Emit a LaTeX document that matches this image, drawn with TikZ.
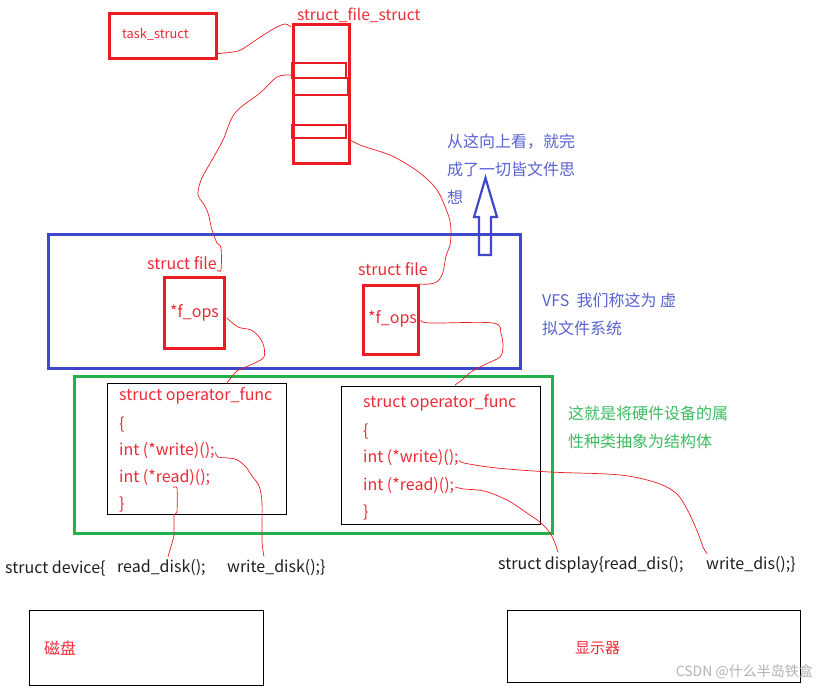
\documentclass[tikz,border=0pt]{standalone}
\usepackage{fontspec}
\setmainfont{Noto Sans CJK SC}
\usetikzlibrary{calc}
\definecolor{pred}{HTML}{ED1C24}
\definecolor{pblue}{HTML}{3F48CC}
\definecolor{pgreen}{HTML}{22B14C}
\definecolor{tred}{HTML}{EE2A36}
\definecolor{tblue}{HTML}{5A62D2}
\definecolor{tgreen}{HTML}{3DBB62}
\begin{document}
\begin{tikzpicture}[x=1pt,y=-1pt,
  redbox/.style={draw=pred, line width=2.6pt, inner sep=0pt, anchor=north west},
  blkbox/.style={draw=black, line width=1pt, inner sep=0pt, anchor=north west},
  rtxt/.style={text=tred, font=\fontsize{16}{18}\selectfont, inner sep=0pt, anchor=west},
  btxt/.style={text=black!88, font=\fontsize{16}{18}\selectfont, inner sep=0pt, anchor=west},
  cnote/.style={font=\fontsize{16}{28}\selectfont, inner sep=0pt, anchor=north west, align=left},
  wire/.style={draw=pred, line width=0.7pt, smooth, tension=0.55}
]
\useasboundingbox (0,0) rectangle (825,689);
\fill[white] (0,0) rectangle (825,689);

% task_struct
\node[redbox, minimum width=107, minimum height=45] (task) at (108,12) {};
\node[rtxt, font=\fontsize{12.8}{14}\selectfont] (tasktxt) at (122,34) {task\_struct};

% struct_file_struct column
\node[rtxt, font=\fontsize{15.5}{17}\selectfont] (fslbl) at (297,15) {struct\_file\_struct};
\node[redbox, minimum width=56, minimum height=139] (fs) at (292,23) {};
\draw[pred, line width=2.6pt] (292,63) rectangle (346,78);
\draw[pred, line width=2.6pt] (294,78) rectangle (348,95);
\draw[pred, line width=2.6pt] (292,125) rectangle (346,138);

% VFS box
\node[draw=pblue, line width=3pt, inner sep=0pt, anchor=north west, minimum width=472, minimum height=134] (vfs) at (47,233) {};
\node[rtxt, anchor=center] (sf1) at (182,263) {struct file};
\node[redbox, minimum width=60, minimum height=71] (fo1) at (163,276) {};
\node[rtxt] (fopt1) at (170,313) {*f\_ops};
\node[rtxt, anchor=center] (sf2) at (393,269) {struct file};
\node[redbox, minimum width=55, minimum height=69] (fo2) at (362,284) {};
\node[rtxt] (fopt2) at (368,319) {*f\_ops};

% up arrow
\draw[pblue, line width=2.2pt, line join=miter] (479,255) -- (479,217) -- (474,217) -- (485.5,178) -- (497,217) -- (491,217) -- (491,255) -- cycle;
\node[cnote, text=tblue] (upnote) at (447,134) {从这向上看，就完\\成了一切皆文件思\\想};
\node[cnote, text=tblue] (vfsnote) at (542,293) {VFS\ \ 我们称这为 虚\\拟文件系统};

% green box
\node[draw=pgreen, line width=3pt, inner sep=0pt, anchor=north west, minimum width=478, minimum height=157] (grn) at (73,375) {};
\node[cnote, text=tgreen] (hwnote) at (568,406) {这就是将硬件设备的属\\性种类抽象为结构体};

% operator_func boxes
\node[blkbox, minimum width=179, minimum height=131] (ob1) at (107,383) {};
\node[rtxt] (oa1) at (119,396) {struct operator\_func};
\node[rtxt] (ob1a) at (119,425) {\{};
\node[rtxt] (w1) at (119,451) {int (*write)();};
\node[rtxt] (r1) at (119,478) {int (*read)();};
\node[rtxt] (ob1b) at (119,505) {\}};

\node[blkbox, minimum width=199, minimum height=138] (ob2) at (341,386) {};
\node[rtxt] (oa2) at (363,403) {struct operator\_func};
\node[rtxt] (ob2a) at (363,432) {\{};
\node[rtxt] (w2) at (363,458) {int (*write)();};
\node[rtxt] (r2) at (363,486) {int (*read)();};
\node[rtxt] (ob2b) at (363,513) {\}};

% device lines
\node[btxt] (dev) at (5,568) {struct device\{};
\node[btxt] (rd) at (117,568) {read\_disk();};
\node[btxt] (wd) at (227,568) {write\_disk();\}};
\node[btxt] (dsp) at (498,565) {struct display\{read\_dis();};
\node[btxt] (wdi) at (706,565) {write\_dis();\}};

% hardware boxes
\node[blkbox, minimum width=234, minimum height=75] (disk) at (29,610) {};
\node[rtxt] (disktxt) at (44,648) {磁盘};
\node[blkbox, minimum width=293, minimum height=72] (disp) at (507,610) {};
\node[rtxt, font=\fontsize{15}{17}\selectfont] (disptxt) at (575,648) {显示器};
\node[inner sep=0pt, anchor=east, text=black!30, font=\fontsize{14}{16}\selectfont] (wm) at (813,672) {CSDN @什么半岛铁盒};

% connectors
\draw[wire] plot coordinates {($(task.south east)+(0,-6)$) (238,51) (250,44) (262,36) (275,28) (285,24) ($(fs.north west)+(-1,4)$)};
\draw[wire] plot coordinates {($(fs.north west)+(-1,52)$) (277,77) (260,93) (235,113) (223,140) (212,160) (201,180) (198,195) (203,203) (208,213) (212,230) (217,243) (221,248) (221,270) (sf1.south east)};
\draw[wire] plot coordinates {($(fs.north west)+(58,117)$) (360,145) (372,149) (390,155) (405,163) (420,173) (433,185) (440,195) (446,209) (450,221) (451,233) (450,245) (446,256) (443,272) (438,281) (430,284) (fo2.north east)};
\draw[wire] plot coordinates {($(fo1.east)+(1,5)$) (238,327) (251,330) (260,338) (264,347) (264,357) (257,362) (248,366) (237,371) (230,379) ($(ob1.north west)+(120,0)$)};
\draw[wire] plot coordinates {($(fo2.east)+(1,0)$) (430,323) (493,323) (501,334) (503,347) (500,357) (486,364) (471,372) (462,380) ($(ob2.north west)+(114,-1)$)};
\draw[wire] plot coordinates {($(w1.east)+(1,1)$) (218,457) (235,459) (245,466) (252,476) (259,486) (262,503) (262,540) ($(wd.north west)+(37,-3)$)};
\draw[wire, tension=0.3] plot coordinates {($(r1.south west)+(54,1)$) (177,488) (177,512) (174,515) (174,535) (170,550) ($(rd.north west)+(51,-3)$)};
\draw[wire] plot coordinates {($(w2.east)+(1,2)$) (464,463) (497,468) (550,472) (607,474) (634,477) (660,484) (677,494) (688,511) (698,533) (703,547) ($(wdi.north west)+(1,-3)$)};
\draw[wire] plot coordinates {($(r2.east)+(1,1)$) (464,489) (484,491) (507,500) (527,513) (541,523) (550,533) (555,543) ($(dsp.north west)+(60,-4)$)};
\end{tikzpicture}
\end{document}
